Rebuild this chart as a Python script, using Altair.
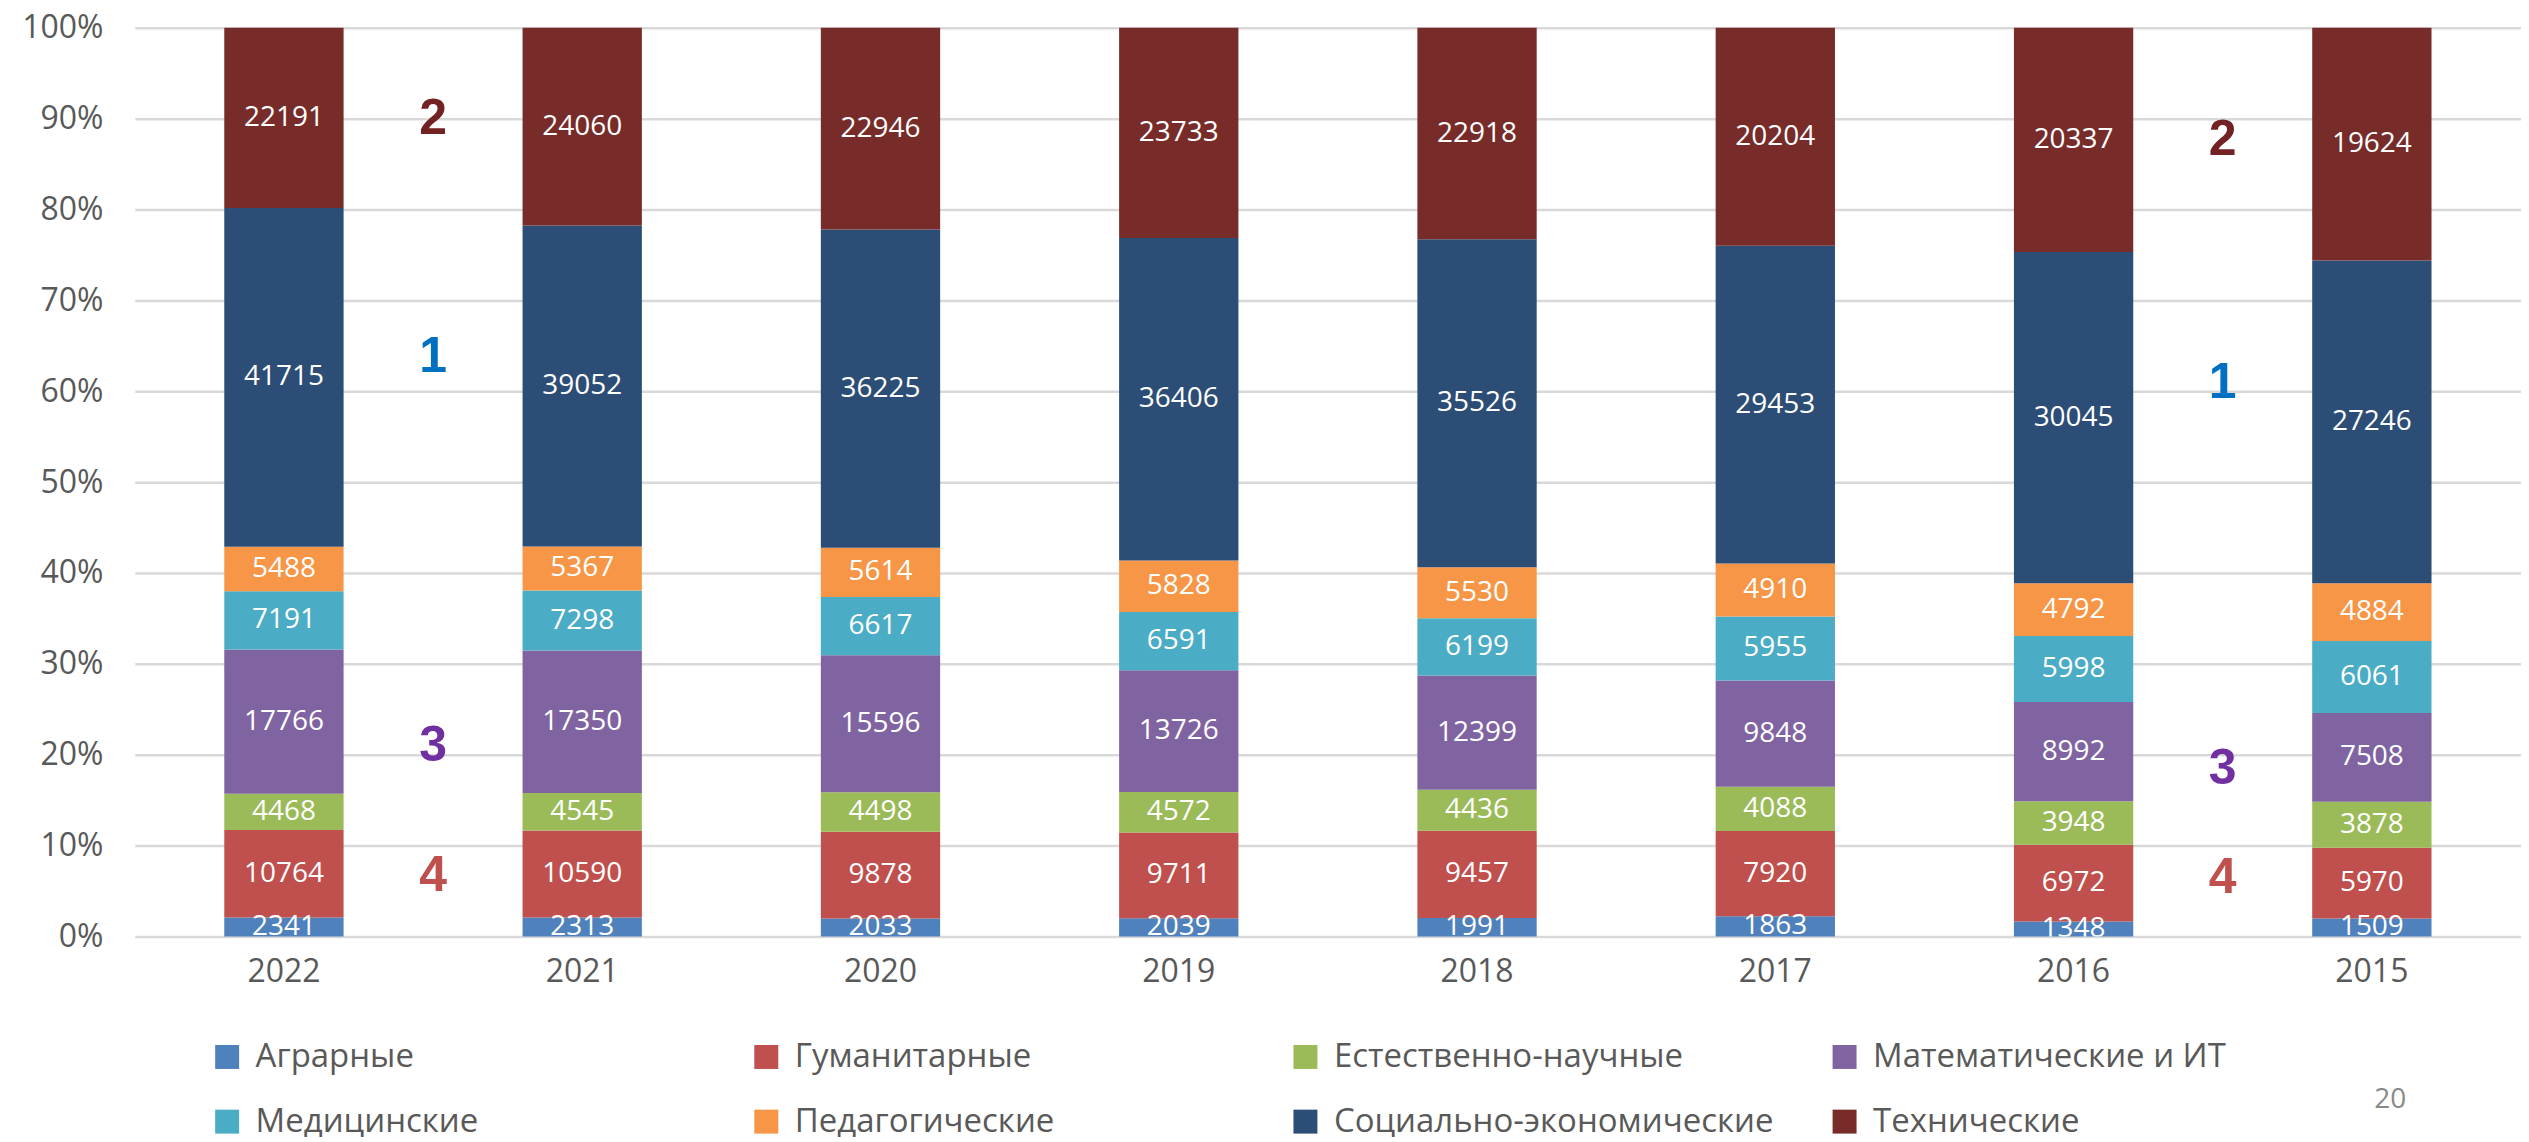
import altair as alt
import pandas as pd

years = ["2022", "2021", "2020", "2019", "2018", "2017", "2016", "2015"]
categories = ["Аграрные", "Гуманитарные", "Естественно-научные", "Математические и ИТ",
              "Медицинские", "Педагогические", "Социально-экономические", "Технические"]
colors = ["#4F81BD", "#C0504D", "#9BBB59", "#8064A2", "#4BACC6", "#F79646", "#2C4D75", "#772C2A"]

agr = [2341, 2313, 2033, 2039, 1991, 1863, 1348, 1509]
hum = [10764, 10590, 9878, 9711, 9457, 7920, 6972, 5970]
nat = [4468, 4545, 4498, 4572, 4436, 4088, 3948, 3878]
math_it = [17766, 17350, 15596, 13726, 12399, 9848, 8992, 7508]
med = [7191, 7298, 6617, 6591, 6199, 5955, 5998, 6061]
ped = [5488, 5367, 5614, 5828, 5530, 4910, 4792, 4884]
soc = [41715, 39052, 36225, 36406, 35526, 29453, 30045, 27246]
tech = [22191, 24060, 22946, 23733, 22918, 20204, 20337, 19624]
series = [agr, hum, nat, math_it, med, ped, soc, tech]

ann_labels = ["2", "1", "3", "4", "2", "1", "3", "4"]
ann_after = ["2022", "2022", "2022", "2022", "2016", "2016", "2016", "2016"]
ann_pct = [0.900, 0.638, 0.210, 0.067, 0.877, 0.609, 0.184, 0.064]
ann_colors = ["#722222", "#0070C0", "#7030A0", "#C0504D", "#722222", "#0070C0", "#7030A0", "#C0504D"]

page_number = ["20"]

rows = []
for ci, (cat, vals) in enumerate(zip(categories, series)):
    for yr, v in zip(years, vals):
        rows.append({"year": yr, "cat": cat, "order": ci, "value": v})
df = pd.DataFrame(rows)

ann_df = pd.DataFrame({"t": ann_labels, "year": ann_after, "pct": ann_pct, "c": ann_colors})

W, H = 2390, 910
FONT = "Open Sans"
GRAY = "#595959"

x_enc = alt.X("year:N", sort=years, title=None,
              scale=alt.Scale(paddingInner=0.6, paddingOuter=0.3),
              axis=alt.Axis(labelFontSize=32, labelFont=FONT, labelColor=GRAY, labelAngle=0,
                            domain=False, ticks=False, tickSize=0, labelPadding=20, grid=False))

base = alt.Chart(df).transform_stack(
    stack="value", groupby=["year"], as_=["v0", "v1"], offset="normalize",
    sort=[alt.SortField("order", "ascending")]
).transform_calculate(mid="(datum.v0 + datum.v1) / 2")

bars = base.mark_bar(strokeWidth=0).encode(
    x=x_enc,
    y=alt.Y("v0:Q", title=None, scale=alt.Scale(domain=[0, 1], nice=False),
            axis=alt.Axis(format=".0%", values=[i / 10 for i in range(11)],
                          labelFontSize=32, labelFont=FONT, labelColor=GRAY,
                          domain=False, ticks=False, tickSize=0, labelPadding=32,
                          grid=True, gridColor="#D9D9D9", gridWidth=2.5)),
    y2="v1:Q",
    color=alt.Color("cat:N", scale=alt.Scale(domain=categories, range=colors),
                    legend=alt.Legend(orient="none", legendX=76, legendY=1014,
                                      direction="horizontal", columns=4, gridAlign="all",
                                      columnPadding=54, rowPadding=31,
                                      symbolType="square", symbolSize=576, symbolStrokeWidth=0,
                                      labelFontSize=33, labelFont=FONT, labelColor=GRAY,
                                      labelOffset=12, labelLimit=800, title=None)),
)

labels = base.mark_text(color="white", fontSize=28, font=FONT, clip=True).encode(
    x=x_enc,
    y=alt.Y("mid:Q"),
    text=alt.Text("value:Q", format="d"),
)

anns = alt.Chart(ann_df).mark_text(dx=W / 16, fontSize=50, fontWeight="bold",
                                   font="Liberation Sans").encode(
    x=alt.X("year:N", sort=years),
    y=alt.Y("pct:Q"),
    text="t:N",
    color=alt.Color("c:N", scale=None),
)

page = alt.Chart(pd.DataFrame({"t": page_number})).mark_text(
    fontSize=28, font=FONT, color="#898989"
).encode(text="t:N", x=alt.value(2259), y=alt.value(1074))

chart = alt.layer(bars, labels, anns, page).properties(
    width=W, height=H,
    autosize="none",
    padding={"left": 127, "top": 19, "right": 0, "bottom": 200},
).configure_view(stroke=None)

chart.save("out.html", embed_options={"renderer": "svg", "actions": False})
